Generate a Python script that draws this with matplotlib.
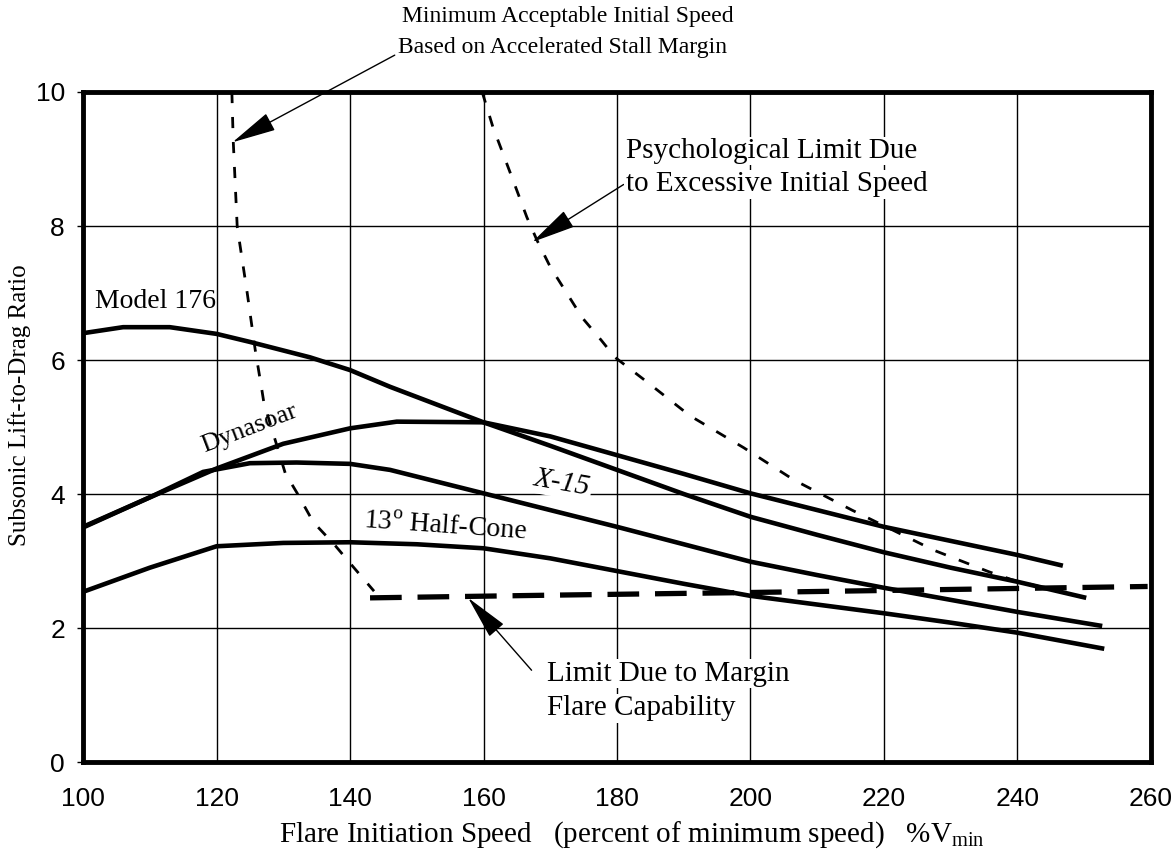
import numpy as np
import matplotlib
matplotlib.use("Agg")
import matplotlib.pyplot as plt

# curves: x in %Vmin, y is L/D
model176_x = [100, 106, 113, 120, 125, 134, 140, 146, 160, 170, 180, 190, 200, 210, 220, 230, 240, 250.3]
model176_y = [6.40, 6.49, 6.49, 6.39, 6.27, 6.04, 5.85, 5.60, 5.07, 4.72, 4.36, 4.00, 3.66, 3.39, 3.13, 2.90, 2.69, 2.45]

dynasoar_x = [100, 110, 120, 130, 140, 147, 160, 170, 180, 190, 200, 210, 220, 230, 240, 246.8]
dynasoar_y = [3.51, 3.95, 4.38, 4.75, 4.98, 5.08, 5.07, 4.86, 4.58, 4.30, 4.01, 3.76, 3.51, 3.30, 3.09, 2.93]

x15_x = [100, 110, 118, 125, 132, 140, 146, 160, 170, 180, 190, 200, 210, 220, 230, 240, 252.7]
x15_y = [3.50, 3.95, 4.33, 4.46, 4.47, 4.45, 4.36, 4.01, 3.76, 3.51, 3.25, 2.99, 2.79, 2.60, 2.42, 2.24, 2.03]

halfcone_x = [100, 110, 120, 130, 140, 150, 160, 170, 180, 190, 200, 210, 220, 230, 240, 253]
halfcone_y = [2.54, 2.90, 3.22, 3.27, 3.28, 3.25, 3.19, 3.04, 2.85, 2.66, 2.48, 2.35, 2.22, 2.08, 1.93, 1.69]

# limit lines (dashed)
minspeed_x = [122.3, 122.5, 123.1, 124.6, 125.8, 126.8, 127.1, 130.3, 132.1, 134.5, 137.7, 140.5, 143.6]
minspeed_y = [10.0, 9.28, 7.99, 7.00, 6.15, 5.55, 5.36, 4.31, 4.01, 3.58, 3.24, 2.91, 2.55]

flare_x = [143, 170, 200, 259.5]
flare_y = [2.45, 2.49, 2.53, 2.62]

psych_x = [159.8, 161.4, 164.4, 166.5, 168.0, 170.0, 174.8, 177.6, 179.7, 184.4, 190.9, 199.0, 206.5, 215.2, 227.5, 235.7, 239.2, 249.7]
psych_y = [10.0, 9.48, 8.69, 8.13, 7.79, 7.39, 6.63, 6.30, 6.04, 5.68, 5.17, 4.69, 4.21, 3.76, 3.16, 2.84, 2.72, 2.46]

xticks = [100, 120, 140, 160, 180, 200, 220, 240, 260]
yticks = [0, 2, 4, 6, 8, 10]

plt.rcParams['font.family'] = ['Liberation Serif', 'DejaVu Serif']
plt.rcParams['mathtext.fontset'] = 'custom'
plt.rcParams['mathtext.rm'] = 'Liberation Serif'

fig = plt.figure(figsize=(11.71, 8.59), dpi=100)
ax = fig.add_axes([0.0709, 0.1129, 0.9120, 0.7800])

ax.set_xlim(100, 260)
ax.set_ylim(0, 10)
ax.set_xticks(xticks)
ax.set_yticks(yticks)
ax.grid(True, color='black', lw=1.0)
ax.set_axisbelow(True)
for s in ax.spines.values():
    s.set_linewidth(3.5)
ax.tick_params(axis='x', length=0, pad=18, labelsize=19)
ax.tick_params(axis='y', length=4, width=1, pad=9, labelsize=19)
for lab in ax.get_xticklabels() + ax.get_yticklabels():
    lab.set_family(['Liberation Sans Narrow', 'Liberation Sans'])

# solid curves
for xs, ys in [(model176_x, model176_y), (dynasoar_x, dynasoar_y),
               (x15_x, x15_y), (halfcone_x, halfcone_y)]:
    ax.plot(xs, ys, color='black', lw=3.3, solid_capstyle='butt', clip_on=False)

# dashed limits
ax.plot(minspeed_x, minspeed_y, color='black', lw=2.0, dashes=(4, 5))
ax.plot(psych_x, psych_y, color='black', lw=2.0, dashes=(4, 5))
ax.plot(flare_x, flare_y, color='black', lw=3.8, dashes=(6, 3))

# curve labels
ax.text(101.8, 6.88, 'Model 176', fontsize=20, va='center', ha='left')
ax.text(125.0, 4.98, 'Dynasoar', fontsize=19, va='center', ha='center', rotation=21)
ax.text(171.8, 4.16, 'X-15', fontsize=21, style='italic', va='center', ha='center',
        rotation=-10, bbox=dict(facecolor='white', edgecolor='none', pad=1))
ax.text(154.2, 3.50, '13$^{\\mathrm{o}}$ Half-Cone', fontsize=20, va='center', ha='center', rotation=-4)

# annotations
arrow = dict(arrowstyle='-|>,head_length=1.4,head_width=0.3', color='black', lw=1,
             shrinkA=0, shrinkB=0, mutation_scale=20)
ax.annotate('', xy=(122.4, 9.25), xytext=(146.7, 10.55), arrowprops=arrow, annotation_clip=False)
ax.text(147.8, 11.12, 'Minimum Acceptable Initial Speed', fontsize=17, va='center', ha='left', clip_on=False)
ax.text(147.2, 10.67, 'Based on Accelerated Stall Margin', fontsize=17, va='center', ha='left', clip_on=False)

ax.annotate('', xy=(167.3, 7.76), xytext=(181.0, 8.62), arrowprops=arrow)
ax.text(181.3, 9.12, 'Psychological Limit Due', fontsize=21, va='center', ha='left',
        bbox=dict(facecolor='white', edgecolor='none', pad=1))
ax.text(181.3, 8.62, 'to Excessive Initial Speed', fontsize=21, va='center', ha='left',
        bbox=dict(facecolor='white', edgecolor='none', pad=1))

ax.annotate('', xy=(157.7, 2.45), xytext=(167.2, 1.37), arrowprops=arrow)
ax.text(169.5, 1.32, 'Limit Due to Margin', fontsize=21, va='center', ha='left',
        bbox=dict(facecolor='white', edgecolor='none', pad=1))
ax.text(169.5, 0.80, 'Flare Capability', fontsize=21, va='center', ha='left',
        bbox=dict(facecolor='white', edgecolor='none', pad=1))

fig.text(632 / 1171, 1 - 835 / 859,
         'Flare Initiation Speed   (percent of minimum speed)   %V$_{\\mathrm{min}}$',
         fontsize=21, ha='center', va='center')
fig.text(20 / 1171, 1 - 405 / 859, 'Subsonic Lift-to-Drag Ratio', fontsize=18,
         ha='center', va='center', rotation=90)

fig.savefig('out.png', dpi=100)
